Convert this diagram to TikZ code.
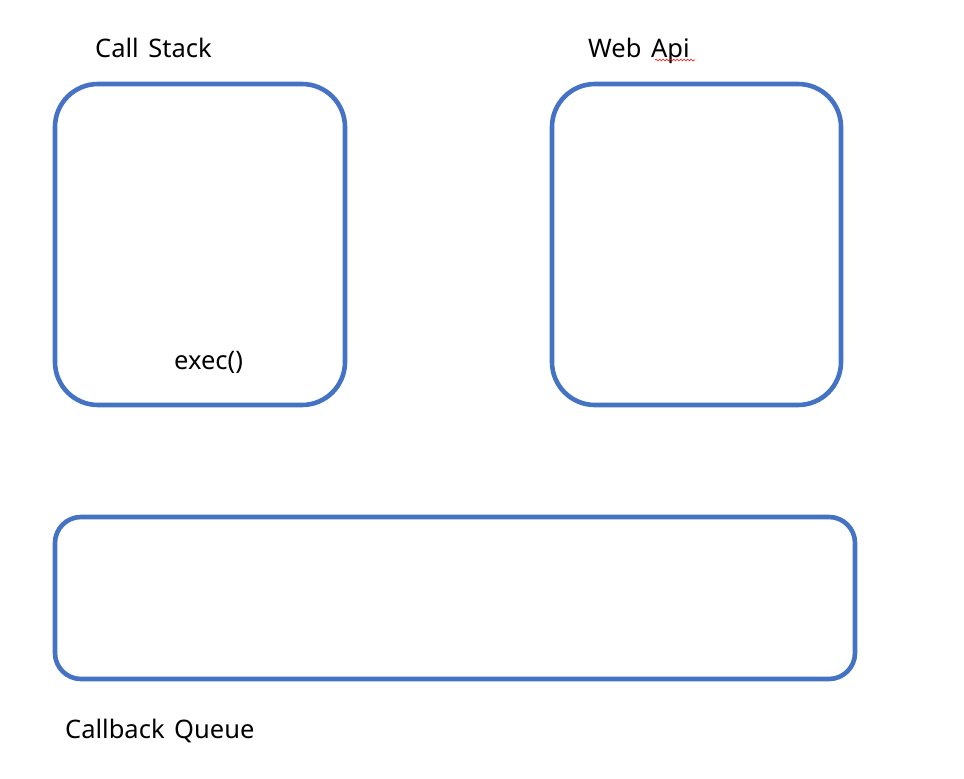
\documentclass[tikz,border=0pt]{standalone}
\usepackage{fontspec}
\setmainfont{Noto Sans}
\usetikzlibrary{decorations.pathmorphing}
\definecolor{boxblue}{HTML}{4472C4}
\begin{document}
\begin{tikzpicture}[x=1pt,y=-1pt,
  panel/.style={draw=boxblue,line width=4.6pt},
  lbl/.style={anchor=base west,inner sep=0pt,font=\fontsize{25.5}{30}\selectfont}]
\useasboundingbox (0,0) rectangle (964,779);
\draw[panel,rounded corners=43pt] (55,84) rectangle (345,405);
\draw[panel,rounded corners=43pt] (552,84) rectangle (841,405);
\draw[panel,rounded corners=26pt] (55,517) rectangle (855,679);
\node[lbl] (cs) at (95,57) {Call\hspace{3pt} Stack};
\node[lbl] (wa) at (588,57) {Web\hspace{3pt} Api};
\node[lbl] (ex) at (174,369) {exec()};
\node[lbl] (cq) at (65,738) {Callback\hspace{3pt} Queue};
\draw[red,line width=0.6pt,decorate,decoration={snake,amplitude=0.9pt,segment length=3.5pt}] (655,60) -- (695,60);
\end{tikzpicture}
\end{document}
